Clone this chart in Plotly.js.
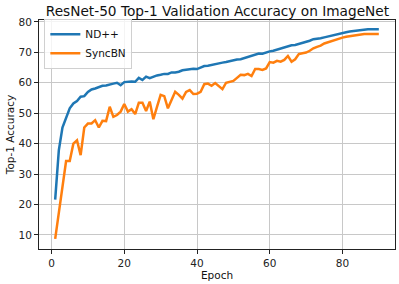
<!DOCTYPE html>
<html>
<head>
<meta charset="utf-8">
<script src="https://cdn.plot.ly/plotly-3.0.1.min.js"></script>
<style>html,body{margin:0;padding:0;background:#fff;}#chart{width:399px;height:284px;}</style>
</head>
<body>
<div id="chart"></div>
<script>
const epochs = [1,2,3,4,5,6,7,8,9,10,11,12,13,14,15,16,17,18,19,20,21,22,23,24,25,26,27,28,29,30,31,32,33,34,35,36,37,38,39,40,41,42,43,44,45,46,47,48,49,50,51,52,53,54,55,56,57,58,59,60,61,62,63,64,65,66,67,68,69,70,71,72,73,74,75,76,77,78,79,80,81,82,83,84,85,86,87,88,89,90];

const ndpp = [21.6,37.8,45.3,48.3,51.6,53.2,54.0,55.4,55.6,57.0,57.8,58.1,58.6,59.0,59.1,59.3,59.7,60.0,59.2,60.2,
  60.4,60.4,60.3,61.6,60.9,62.0,61.5,62.0,62.4,62.6,62.9,62.9,63.4,63.4,63.6,64.1,64.3,64.5,64.6,64.5,
  65.0,65.5,65.6,65.9,66.1,66.4,66.6,66.8,67.1,67.3,67.6,67.7,68.1,68.4,69.0,69.3,69.6,69.5,70.0,70.3,
  70.5,70.9,71.3,71.6,72.0,72.3,72.4,72.7,73.2,73.5,73.8,74.3,74.4,74.6,74.9,75.2,75.6,75.8,76.1,76.4,
  76.6,76.8,77.0,77.2,77.4,77.5,77.6,77.6,77.6,77.6];

const syncbn = [8.7,17.0,25.8,34.3,34.3,40.0,41.1,36.2,45.3,46.6,46.6,47.7,45.3,47.5,47.4,52.1,48.8,49.4,50.5,53.0,
  50.5,51.3,49.7,53.4,53.4,50.7,53.8,48.0,52.1,56.0,55.6,51.6,54.3,57.0,56.0,54.8,57.0,57.6,56.3,56.4,
  57.0,59.5,59.7,59.0,59.9,59.0,57.9,60.0,60.2,60.6,61.6,62.6,62.5,62.9,62.2,64.5,64.5,64.2,64.7,66.8,
  66.6,67.2,66.9,67.5,68.8,66.9,67.7,69.4,69.7,69.9,70.5,71.3,71.8,72.2,72.9,73.3,73.8,74.0,74.5,74.8,
  75.1,75.3,75.6,75.8,75.9,76.0,76.0,76.0,76.0,76.0];

const seriesNames = ["ND++", "SyncBN"];
const xTicks = [0,20,40,60,80];
const yTicks = [10,20,30,40,50,60,70,80];

const font = "DejaVu Sans, sans-serif";
const traces = [
  {x: epochs, y: ndpp, name: seriesNames[0], type: "scatter", mode: "lines", line: {color: "#1f77b4", width: 2.5}},
  {x: epochs, y: syncbn, name: seriesNames[1], type: "scatter", mode: "lines", line: {color: "#ff7f0e", width: 2.5}}
];
const axisCommon = {
  showgrid: true, gridcolor: "#c8c8c8", gridwidth: 1,
  showline: true, mirror: true, linecolor: "#222", linewidth: 1,
  ticks: "outside", ticklen: 4, tickcolor: "#222", tickwidth: 1,
  zeroline: false, tickfont: {family: font, size: 10.5, color: "#222"}
};
const layout = {
  width: 399, height: 284,
  margin: {l: 39, r: 4, t: 20, b: 35},
  paper_bgcolor: "#fff", plot_bgcolor: "#fff",
  title: {text: "ResNet-50 Top-1 Validation Accuracy on ImageNet", font: {family: font, size: 13.7, color: "#111"}, x: 0.5449, xanchor: "center", y: 0.978, yanchor: "top"},
  xaxis: Object.assign({}, axisCommon, {range: [-3.45, 94.45], tickvals: xTicks, title: {text: "Epoch", font: {family: font, size: 10.5, color: "#111"}, standoff: 4}}),
  yaxis: Object.assign({}, axisCommon, {range: [5.4, 80.6], tickvals: yTicks, title: {text: "Top-1 Accuracy", font: {family: font, size: 10.5, color: "#111"}, standoff: 1}}),
  showlegend: true,
  legend: {x: 0.015, y: 1.005, xanchor: "left", yanchor: "top", bgcolor: "rgba(255,255,255,0.8)", bordercolor: "#d0d0d0", borderwidth: 1, font: {family: font, size: 10.5, color: "#111"}, tracegroupgap: 0, itemwidth: 30}
};
Plotly.newPlot("chart", traces, layout, {displayModeBar: false, staticPlot: true});
</script>
</body>
</html>
